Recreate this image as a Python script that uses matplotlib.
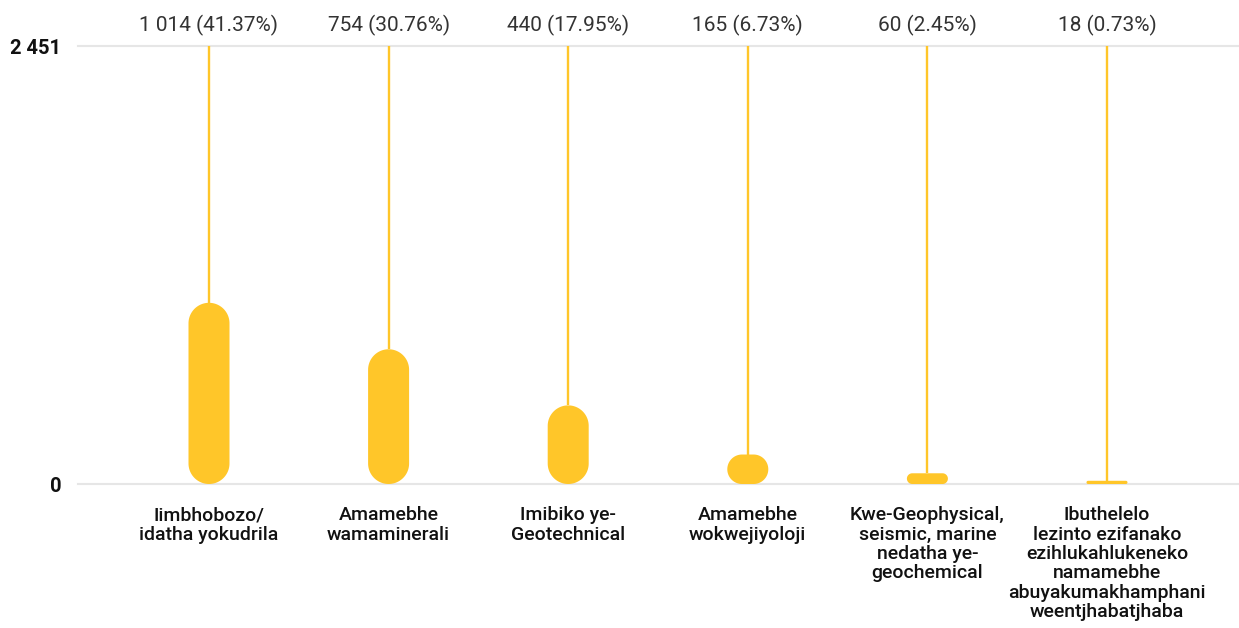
import matplotlib
matplotlib.use("Agg")
import numpy as np
import matplotlib.pyplot as plt
from matplotlib.patches import Polygon
from matplotlib.transforms import IdentityTransform

categories = [
    "Iimbhobozo/\nidatha yokudrila",
    "Amamebhe\nwamaminerali",
    "Imibiko ye-\nGeotechnical",
    "Amamebhe\nwokwejiyoloji",
    "Kwe-Geophysical,\nseismic, marine\nnedatha ye-\ngeochemical",
    "Ibuthelelo\nlezinto ezifanako\nezihlukahlukeneko\nnamamebhe\nabuyakumakhamphani\nweentjhabatjhaba",
]
counts = [1014, 754, 440, 165, 60, 18]
percents = ["41.37%", "30.76%", "17.95%", "6.73%", "2.45%", "0.73%"]
total = 2451
ytick_labels = ["0", "2 451"]

YELLOW = "#FFC629"
W, H, DPI = 1239, 628, 100

fig = plt.figure(figsize=(W / DPI, H / DPI), dpi=DPI)
ax = fig.add_axes([78 / W, (H - 484) / H, 1 - 78 / W, (484 - 46) / H])
ax.set_xlim(-0.7294, 5.735)
ax.set_ylim(0, total)
for s in ax.spines.values():
    s.set_visible(False)

for yv in [0, total]:
    ax.axhline(yv, color="#e6e6e6", lw=1.5, zorder=1, clip_on=False)

ax.set_yticks([0, total])
ax.set_yticklabels(ytick_labels, fontsize=14.5, fontweight="bold", family="Roboto", color="#111111")
ax.tick_params(axis="y", length=0, pad=12)

ax.set_xticks(range(len(categories)))
ax.set_xticklabels(categories, fontsize=14, family="Roboto", fontweight="medium",
                   color="#111111", linespacing=1.1, va="top")
ax.tick_params(axis="x", length=0, pad=16)


def stadium(x0, y0, w, h, n=40):
    """Rounded rectangle with fully rounded short sides, pixel coords."""
    r = min(w, h) / 2
    cx0, cx1 = x0 + r, x0 + w - r
    cy0, cy1 = y0 + r, y0 + h - r
    pts = []
    for (cx, cy, a0) in [(cx1, cy1, 0), (cx0, cy1, 90), (cx0, cy0, 180), (cx1, cy0, 270)]:
        t = np.radians(np.linspace(a0, a0 + 90, n))
        pts.append(np.column_stack([cx + r * np.cos(t), cy + r * np.sin(t)]))
    return np.vstack(pts)


fig.canvas.draw()
bar_px = 41
for i, (c, p) in enumerate(zip(counts, percents)):
    ax.plot([i, i], [c, total], color=YELLOW, lw=1.7, zorder=2, solid_capstyle="butt")
    x0, y0 = ax.transData.transform((i, 0))
    _, y1 = ax.transData.transform((i, c))
    h = max(y1 - y0, 2.5)
    poly = Polygon(stadium(x0 - bar_px / 2, y0, bar_px, h), closed=True,
                   transform=IdentityTransform(), facecolor=YELLOW,
                   edgecolor="none", zorder=3, clip_on=False)
    ax.add_artist(poly)
    label = f"{c:,}".replace(",", " ") + f" ({p})"
    ax.annotate(label, xy=(i, total), xytext=(0, 15), textcoords="offset points",
                ha="center", va="center", fontsize=15, family="Roboto",
                fontweight="normal", color="#333333", annotation_clip=False)

fig.savefig("out.png", dpi=DPI, facecolor="white")
